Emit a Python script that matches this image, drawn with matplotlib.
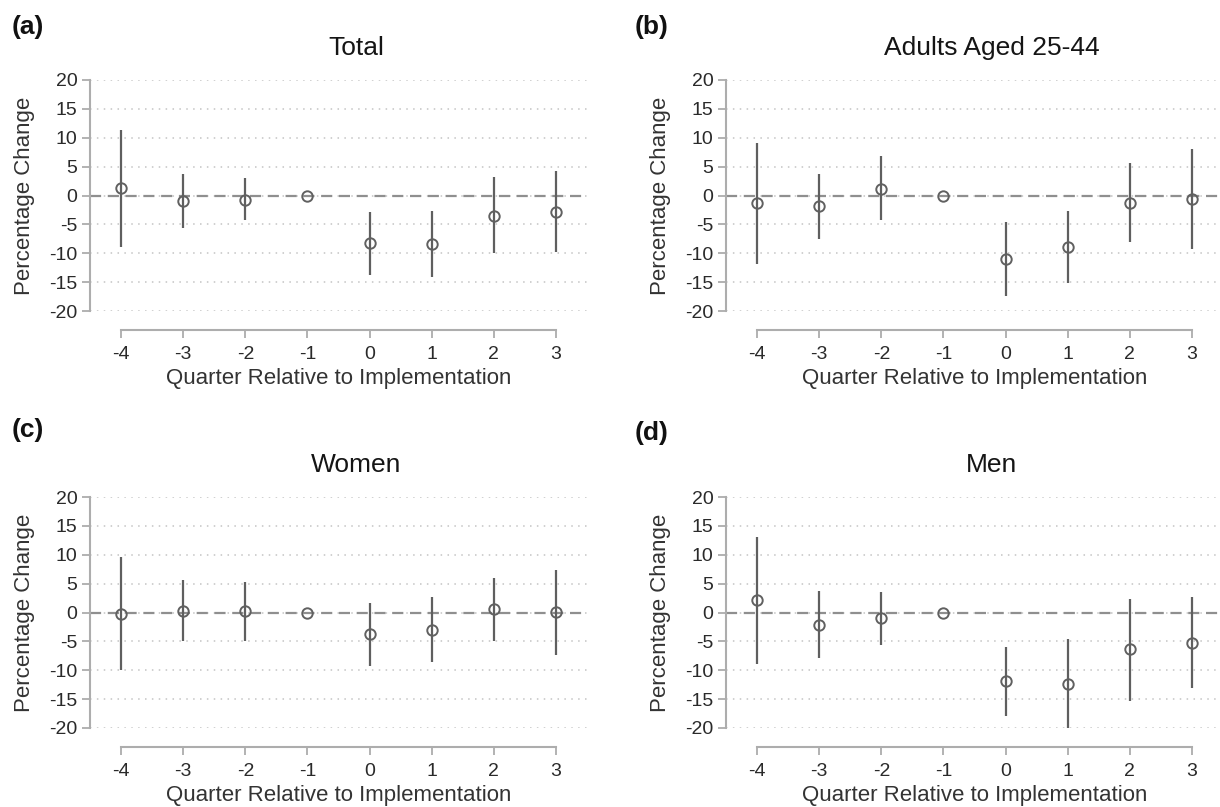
import numpy as np
import matplotlib.pyplot as plt

quarters = [-4, -3, -2, -1, 0, 1, 2, 3]

total_est = [1.3, -1.0, -0.7, 0.0, -8.3, -8.4, -3.5, -2.8]
total_lo = [-9.0, -5.6, -4.3, 0.0, -13.8, -14.1, -10.0, -9.7]
total_hi = [11.4, 3.7, 3.0, 0.0, -2.8, -2.6, 3.2, 4.2]

adult_est = [-1.3, -1.9, 1.2, 0.0, -11.0, -8.9, -1.3, -0.6]
adult_lo = [-11.8, -7.5, -4.3, 0.0, -17.4, -15.2, -8.1, -9.3]
adult_hi = [9.1, 3.7, 6.8, 0.0, -4.6, -2.6, 5.6, 8.1]

women_est = [-0.2, 0.3, 0.2, 0.0, -3.8, -3.0, 0.6, 0.1]
women_lo = [-10.0, -5.0, -4.9, 0.0, -9.3, -8.6, -4.9, -7.4]
women_hi = [9.6, 5.7, 5.3, 0.0, 1.7, 2.6, 6.0, 7.4]

men_est = [2.1, -2.1, -1.0, 0.0, -11.9, -12.4, -6.4, -5.2]
men_lo = [-8.9, -7.9, -5.7, 0.0, -17.9, -20.0, -15.3, -13.1]
men_hi = [13.0, 3.8, 3.6, 0.0, -5.9, -4.6, 2.4, 2.7]

titles = ["Total", "Adults Aged 25-44", "Women", "Men"]
letters = ["(a)", "(b)", "(c)", "(d)"]
yticks = [20, 15, 10, 5, 0, -5, -10, -15, -20]

plt.rcParams['font.family'] = ['Liberation Sans', 'DejaVu Sans']
plt.rcParams['axes.unicode_minus'] = False

W, H = 1220, 807
fig = plt.figure(figsize=(W / 100, H / 100), dpi=100)

# pixel layout: axes left, y of the 20 line, axes right, title y, letter x, letter y
panels = [
    (90, 80, 587, 48, 12, 27, total_est, total_lo, total_hi),
    (726, 80, 1223, 48, 635, 27, adult_est, adult_lo, adult_hi),
    (90, 497, 587, 465, 12, 430, women_est, women_lo, women_hi),
    (726, 497, 1223, 465, 635, 433, men_est, men_lo, men_hi),
]
ax_h = 231

line_col = "#5f5f5f"
axis_col = "#adadad"
text_col = "#2a2a2a"

for i, (left, top, right, ty, lx, ly, est, lo, hi) in enumerate(panels):
    ax = fig.add_axes([left / W, 1 - (top + ax_h) / H, (right - left) / W, ax_h / H])
    ax.set_xlim(-4.5, 3.5)
    ax.set_ylim(-20, 20)
    ax.patch.set_alpha(0)

    for y in yticks:
        ax.axhline(y, color="#c4c4c4", lw=1.1, ls=(0, (1, 3.5)), zorder=0)
    ax.axhline(0, color="#8f8f8f", lw=1.6, ls=(0, (5, 3)), zorder=1)

    est = np.array(est)
    lo = np.array(lo)
    hi = np.array(hi)
    q = np.array(quarters)
    has_ci = hi != lo
    ax.vlines(q[has_ci], lo[has_ci], hi[has_ci], color=line_col, lw=1.6, zorder=2)
    ax.plot(q, est, ls="none", marker="o", ms=7.5, mfc="none", mec="#606060",
            mew=1.4, zorder=3, clip_on=False)

    for s in ["top", "right"]:
        ax.spines[s].set_visible(False)
    ax.spines["left"].set_bounds(-20, 20)
    ax.spines["left"].set_color(axis_col)
    ax.spines["left"].set_linewidth(1.5)
    ax.spines["bottom"].set_position(("outward", 14))
    ax.spines["bottom"].set_bounds(-4, 3)
    ax.spines["bottom"].set_color(axis_col)
    ax.spines["bottom"].set_linewidth(1.5)

    ax.set_yticks(yticks)
    ax.set_xticks(quarters)
    ax.tick_params(axis="both", colors=axis_col, width=1.3,
                   labelcolor=text_col, labelsize=14)
    ax.tick_params(axis="y", length=6, pad=3)
    ax.tick_params(axis="x", length=6, pad=5)

    ax.set_ylabel("Percentage Change", fontsize=16, color="#333333", labelpad=10)
    ax.set_xlabel("Quarter Relative to Implementation", fontsize=16, color="#333333",
                  labelpad=4)

    tx = left + (right - left) * 0.535
    fig.text(tx / W, 1 - ty / H, titles[i], ha="center", va="center",
             fontsize=19, color="#151515")
    fig.text(lx / W, 1 - ly / H, letters[i], fontsize=19, fontweight="bold",
             va="center", ha="left", color="#111111")

fig.savefig("out.png", dpi=100)
